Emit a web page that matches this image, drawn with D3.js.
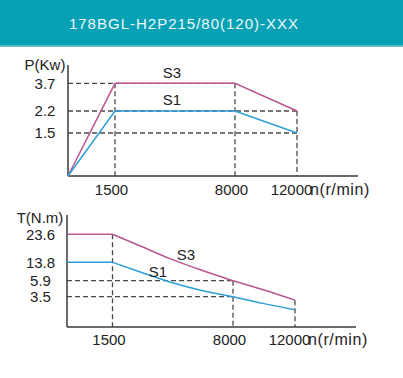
<!DOCTYPE html>
<html>
<head>
<meta charset="utf-8">
<script src="https://cdn.jsdelivr.net/npm/d3@7"></script>
<style>
  body { margin: 0; background: #fff; }
  svg { display: block; font-family: "Liberation Sans", Arial, sans-serif; }
</style>
</head>
<body>
<div id="chart"></div>
<script>
// Data
const title = "178BGL-H2P215/80(120)-XXX";
const speedTicks = [1500, 8000, 12000];
const powerTicks = [3.7, 2.2, 1.5];
const torqueTicks = [23.6, 13.8, 5.9, 3.5];

const powerSpeed = [0, 1500, 8000, 12000];
const powerS3 = [0, 3.7, 3.7, 2.2];
const powerS1 = [0, 2.2, 2.2, 1.5];

const torqueSpeed = [0, 1500, 3000, 4600, 6200, 8000, 10000, 12000];
const torqueS3 = [23.6, 23.6, 19.5, 15.1, 10.7, 5.9, 4.5, 3.1];
const torqueS1 = [13.8, 13.8, 9.6, 5.7, 4.5, 3.5, 2.7, 2.0];

const W = 403, H = 378;
const colS3 = "#bb5593";
const colS1 = "#2d9fd8";
const axisCol = "#3a3a3a";
const dashCol = "#4a4a4a";

const svg = d3.select("#chart").append("svg")
  .attr("width", W)
  .attr("height", H);

// Header band
svg.append("rect").attr("x", 0).attr("y", 0).attr("width", W).attr("height", 45).attr("fill", "#07a1b5");
svg.append("rect").attr("x", 0).attr("y", 45).attr("width", W).attr("height", 2).attr("fill", "#62bcc8");
svg.append("text")
  .attr("x", 184).attr("y", 29)
  .attr("text-anchor", "middle")
  .attr("font-size", 15)
  .attr("letter-spacing", 1)
  .attr("fill", "#eef8fa")
  .text(title);

// Draw one panel. The speed / value axes are piecewise, as on the reference.
function panel(opt) {
  const x = d3.scaleLinear().domain([0, 1500, 8000, 12000]).range(opt.xRange);
  const y = d3.scaleLinear().domain(opt.yDomain).range(opt.yRange);
  const g = svg.append("g");
  const x0 = opt.xRange[0], yBase = opt.yRange[0];

  // dashed guides
  opt.hGuides.forEach(([v, toSpeed]) => {
    g.append("line")
      .attr("x1", x0).attr("x2", x(toSpeed))
      .attr("y1", y(v)).attr("y2", y(v))
      .attr("stroke", dashCol).attr("stroke-width", 1.3)
      .attr("stroke-dasharray", "5,3");
  });
  opt.vGuides.forEach(([s, fromV]) => {
    g.append("line")
      .attr("x1", x(s)).attr("x2", x(s))
      .attr("y1", y(fromV)).attr("y2", yBase)
      .attr("stroke", dashCol).attr("stroke-width", 1.3)
      .attr("stroke-dasharray", "5,3");
  });

  // axes lines
  g.append("line").attr("x1", x0).attr("x2", x0).attr("y1", opt.axisTop).attr("y2", yBase)
    .attr("stroke", axisCol).attr("stroke-width", 1.5);
  g.append("line").attr("x1", x0).attr("x2", opt.axisRight).attr("y1", yBase).attr("y2", yBase)
    .attr("stroke", axisCol).attr("stroke-width", 1.5);

  // y ticks labels
  const ya = g.append("g").attr("transform", `translate(${x0},0)`)
    .call(d3.axisLeft(y).tickValues(opt.yTicks).tickSize(0).tickFormat(d3.format(".1f")));
  ya.select(".domain").remove();
  ya.selectAll("text")
    .attr("x", opt.yLabelX - x0)
    .attr("text-anchor", "middle")
    .attr("font-size", 15)
    .attr("font-family", "Liberation Sans, Arial, sans-serif")
    .attr("fill", "#222");

  // x ticks labels
  const xa = g.append("g").attr("transform", `translate(0,${yBase})`)
    .call(d3.axisBottom(x).tickValues(speedTicks).tickSize(0).tickFormat(d3.format("d")));
  xa.select(".domain").remove();
  xa.selectAll("text")
    .attr("y", opt.xLabelY - yBase)
    .attr("dy", 0)
    .attr("dx", d => d === 12000 ? -6 : -4)
    .attr("font-size", 15)
    .attr("font-family", "Liberation Sans, Arial, sans-serif")
    .attr("fill", "#222");

  g.append("text")
    .attr("x", x(12000) + 13).attr("y", opt.xLabelY)
    .attr("font-size", 16).attr("letter-spacing", 0.6).attr("fill", "#222")
    .text("n(r/min)");

  g.append("text")
    .attr("x", opt.yTitle[0]).attr("y", opt.yTitle[1])
    .attr("text-anchor", "middle")
    .attr("font-size", 15).attr("fill", "#222")
    .text(opt.yName);

  // series
  const series = [
    { vals: opt.s3, color: colS3, name: "S3", pos: opt.s3Label },
    { vals: opt.s1, color: colS1, name: "S1", pos: opt.s1Label }
  ];
  series.forEach(s => {
    const pts = opt.speeds.map((sp, i) => [sp, s.vals[i]]);
    const lineGen = d3.line().x(d => x(d[0])).y(d => y(d[1]));
    if (opt.curved) {
      // straight flat part up to 1500, smooth fall after it
      const k = opt.speeds.indexOf(1500);
      const k2 = opt.speeds.indexOf(8000);
      g.append("path").attr("d", lineGen.curve(d3.curveLinear)(pts.slice(0, k + 1)))
        .attr("fill", "none").attr("stroke", s.color).attr("stroke-width", 1.5);
      g.append("path").attr("d", lineGen.curve(d3.curveMonotoneX)(pts.slice(k, k2 + 1)))
        .attr("fill", "none").attr("stroke", s.color).attr("stroke-width", 1.5);
      g.append("path").attr("d", lineGen.curve(d3.curveMonotoneX)(pts.slice(k2)))
        .attr("fill", "none").attr("stroke", s.color).attr("stroke-width", 1.5);
    } else {
      g.append("path").attr("d", lineGen(pts))
        .attr("fill", "none").attr("stroke", s.color).attr("stroke-width", 1.5);
    }
    g.append("text")
      .attr("x", s.pos[0]).attr("y", s.pos[1])
      .attr("text-anchor", "middle")
      .attr("font-size", 15).attr("fill", "#222")
      .text(s.name);
  });
}

// Power panel
panel({
  xRange: [68, 115, 235, 297],
  yDomain: [0, 1.5, 2.2, 3.7],
  yRange: [176, 133, 111, 83.3],
  yTicks: powerTicks,
  axisTop: 65,
  axisRight: 358,
  yLabelX: 45,
  xLabelY: 195,
  yName: "P(Kw)",
  yTitle: [45, 70],
  speeds: powerSpeed,
  s3: powerS3,
  s1: powerS1,
  curved: false,
  s3Label: [172, 78],
  s1Label: [172, 105],
  hGuides: [[3.7, 8000], [2.2, 12000], [1.5, 12000]],
  vGuides: [[1500, 3.7], [8000, 3.7], [12000, 2.2]]
});

// Torque panel
panel({
  xRange: [67, 112.5, 233, 295],
  yDomain: [0, 3.5, 5.9, 13.8, 23.6],
  yRange: [327, 296.7, 280.7, 262.3, 234.3],
  yTicks: torqueTicks,
  axisTop: 215,
  axisRight: 356,
  yLabelX: 40.5,
  xLabelY: 345,
  yName: "T(N.m)",
  yTitle: [40, 223],
  speeds: torqueSpeed,
  s3: torqueS3,
  s1: torqueS1,
  curved: true,
  s3Label: [186, 260],
  s1Label: [158, 277],
  hGuides: [[5.9, 8000], [3.5, 8000]],
  vGuides: [[1500, 23.6], [8000, 5.9], [12000, 3.1]]
});
</script>
</body>
</html>
